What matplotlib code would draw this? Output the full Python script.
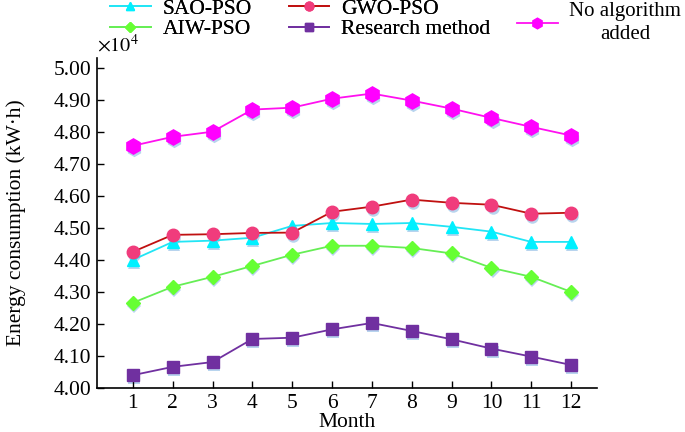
import numpy as np
import matplotlib
matplotlib.use('Agg')
import matplotlib.pyplot as plt
from matplotlib.transforms import offset_copy

plt.rcParams['font.family'] = ['Liberation Serif', 'DejaVu Serif']
plt.rcParams['mathtext.fontset'] = 'stix'

months = list(range(1, 13))
sao_pso = [4.400, 4.456, 4.460, 4.469, 4.506, 4.515, 4.512, 4.515, 4.503, 4.488, 4.456, 4.456]
gwo_pso = [4.425, 4.478, 4.480, 4.484, 4.485, 4.550, 4.566, 4.588, 4.578, 4.572, 4.544, 4.547]
aiw_pso = [4.266, 4.316, 4.347, 4.381, 4.416, 4.444, 4.444, 4.437, 4.420, 4.375, 4.347, 4.300]
research = [4.040, 4.066, 4.081, 4.153, 4.157, 4.183, 4.203, 4.178, 4.152, 4.123, 4.098, 4.072]
no_algo = [4.756, 4.784, 4.800, 4.869, 4.875, 4.903, 4.919, 4.897, 4.872, 4.843, 4.815, 4.788]
yticks = [4.00, 4.10, 4.20, 4.30, 4.40, 4.50, 4.60, 4.70, 4.80, 4.90, 5.00]

fig = plt.figure(figsize=(6.85, 4.32), dpi=100)
ax = fig.add_axes([97/685, 44/432, (597-97)/685, (388-58)/432])

shadow = offset_copy(ax.transData, fig=fig, x=0.8, y=-2.2, units='points')

# (label, data, line colour, marker colour, marker, size)
series = [
    ('SAO-PSO', sao_pso, '#22E5F5', '#00F0FF', '^', 9),
    ('AIW-PSO', aiw_pso, '#66EE55', '#66FF33', 'D', 7),
    ('GWO-PSO', gwo_pso, '#C01010', '#F03C7C', 'o', 9),
    ('Research method', research, '#7030A0', '#7030A0', 's', 9),
    ('No algorithm\nadded', no_algo, '#FF10F0', '#FF00FF', 'h', 11),
]

handles = []
for label, vals, lc, mc, mk, ms in series:
    ax.plot(months, vals, linestyle='none', marker=mk, markersize=ms,
            color='#B8D4EE', markeredgewidth=0, transform=shadow, zorder=1)
    h, = ax.plot(months, vals, color=lc, lw=1.3, marker=mk, markersize=ms,
                 markerfacecolor=mc, markeredgecolor=mc, zorder=2, label=label)
    handles.append(h)

ax.set_xlim(0.1, 12.65)
ax.set_ylim(4.0, 5.03)
ax.set_xticks(months)
ax.set_yticks(yticks)
ax.set_yticklabels(['%.2f' % v for v in yticks])
ax.tick_params(direction='in', length=5, width=1, labelsize=15.5, pad=4)
for s in ['top', 'right']:
    ax.spines[s].set_visible(False)
for s in ['left', 'bottom']:
    ax.spines[s].set_linewidth(1.2)

ax.set_xlabel('Month', fontsize=15.5, labelpad=0)
ax.set_ylabel('Energy consumption (kW·h)', fontsize=15.5, labelpad=20)
ax.text(0.0, 1.005, r'$\times10^{4}$', transform=ax.transAxes, fontsize=14.5,
        ha='left', va='bottom')

leg1 = fig.legend(handles[:4], [s[0] for s in series[:4]], ncol=2,
                  loc='upper left', bbox_to_anchor=(110/685, 1.003),
                  frameon=False, fontsize=15.5, handlelength=1.9,
                  handletextpad=0.55, columnspacing=1.7, labelspacing=0.02,
                  borderpad=0, borderaxespad=0, markerscale=0.7)
fig.add_artist(leg1)
leg2 = fig.legend(handles[4:], [series[4][0]], loc='upper left',
                  bbox_to_anchor=(517/685, 0.995), frameon=False, fontsize=15,
                  handlelength=1.95, handletextpad=0.55, borderpad=0,
                  borderaxespad=0, labelspacing=0, markerscale=0.7)
for t in leg2.get_texts():
    t.set_multialignment('center')
    t.set_linespacing(1.3)

fig.savefig('out.png', dpi=100)
